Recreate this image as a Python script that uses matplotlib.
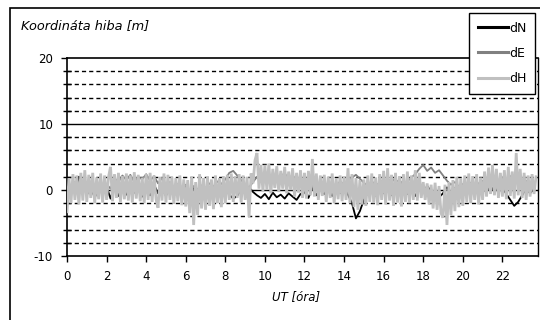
import matplotlib
matplotlib.use("Agg")
import matplotlib.pyplot as plt
from matplotlib.patches import Rectangle
from matplotlib.ticker import MultipleLocator
import numpy as np

plt.rcParams['font.family'] = ['DejaVu Sans']

# dH sampled every 0.1 h (0.0 .. 23.7)
dH = [
    -3.3, 1.8, -2.0, 2.4, -1.5, 2.2, -2.2, 2.6, -1.6, 3.0,
    -1.8, 2.3, -1.2, 2.6, -2.0, 1.9, -1.4, 2.5, -1.9, 2.2,
    -1.5, 2.0, 3.5, -1.7, 2.4, -1.2, 2.6, -1.8, 2.1, -1.4,
    2.5, -1.6, 2.2, -1.9, 2.7, -1.3, 2.3, -1.7, 1.9, -2.0,
    2.4, -1.5, 2.6, -1.8, 2.2, -1.4, -2.7, 2.0, -1.6, 2.5,
    -1.9, 2.3, -1.5, 2.0, -2.1, 1.8, -1.7, 2.2, -2.3, 1.6,
    -2.5, 1.5, -3.5, 2.0, -5.3, 1.2, -3.8, 2.4, -2.8, 1.8,
    -3.0, 2.0, -2.4, 1.6, -2.9, 2.2, -2.0, 1.8, -2.6, 2.1,
    -2.0, 2.3, -1.5, 2.5, -1.8, 2.0, -1.2, 2.4, -1.9, 2.2,
    -1.5, 2.0, -4.1, 2.5, 1.0, 4.5, 5.6, 0.2, 3.8, -0.2,
    3.8, 0.0, 4.0, -0.5, 3.2, 0.3, 3.6, -0.3, 2.9, 0.2,
    3.5, -0.5, 2.8, 0.0, 3.3, -1.0, 2.6, -0.4, 3.0, -1.2,
    2.6, -1.3, 2.9, -0.8, 4.7, -1.0, 2.5, -1.5, 2.2, -0.9,
    2.3, -1.8, 2.0, -1.2, 2.5, -2.0, 1.8, -1.4, 2.2, -1.7,
    2.0, -1.5, 3.3, -2.0, 2.4, -2.6, 1.8, -3.0, 1.5, -2.2,
    1.6, -2.4, 2.2, -1.8, 2.5, -2.0, 1.9, -2.3, 2.4, -1.5,
    2.9, -2.2, 3.3, -1.6, 2.3, -2.4, 2.6, -1.9, 2.1, -2.5,
    2.4, -1.8, 2.8, -2.0, 2.2, -1.5, 3.0, -1.6, 2.6, -1.2,
    1.2, -1.5, 1.0, -2.2, 0.8, -2.8, 1.1, -3.0, 0.6, -3.5,
    -4.2, 0.8, -5.3, 1.2, -3.8, 1.5, -3.2, 2.0, -2.6, 1.8,
    -2.4, 2.2, -1.8, 2.5, -2.0, 2.1, -1.5, 2.4, -2.2, 1.9,
    -1.5, 2.8, -1.0, 3.4, -0.6, 3.8, -0.8, 3.2, -1.2, 2.6,
    -1.0, 3.0, -1.4, 3.5, -0.9, 2.8, -1.3, 5.6, -0.8, 3.2,
    -1.2, 2.6, -1.5, 2.2, -1.0, 2.4, -0.6, 2.0,
]

# dN sampled every 0.2 h (0.0 .. 23.6)
dN = [
    -1.0, 0.8, -0.5, 2.0, 1.2,
    -0.8, 0.6, -1.2, 0.4, -0.6,
    0.5, -1.3, 0.7, -0.9, 0.3,
    -0.7, 0.9, -0.4, 0.6, -1.0,
    0.4, -0.8, 0.8, -0.5, 0.2,
    -0.9, 0.5, -0.6, 0.7, -0.3,
    0.6, -1.1, 0.3, -0.8, 0.5,
    -0.6, 0.4, -0.9, 0.6, -0.4,
    0.3, -0.7, -1.3, -0.9, 0.2,
    -0.5, 0.4, -0.3, -0.8, -1.2,
    -0.6, -1.4, -0.4, -1.1, -0.7,
    -1.3, -0.5, -1.0, -1.5, -0.6,
    -0.3, -1.2, 0.4, -0.8, 0.2,
    -0.6, 0.5, -0.9, 0.3, -0.5,
    0.4, -0.7, -2.0, -4.3, -3.2,
    -1.5, -0.4, 0.3, -0.9, 0.5,
    -0.5, 0.6, -0.8, 0.4, -0.3,
    0.5, -0.6, 0.3, -0.9, 0.2,
    -0.4, 0.6, -0.2, -0.9, -1.1,
    -0.5, 0.4, -0.7, 0.3, -0.6,
    -0.3, -0.7, 0.4, -0.5, 0.3,
    -0.4, 0.5, -0.2, 0.6, -0.3,
    0.4, -0.6, -1.5, -2.4, -1.8,
    -0.8, 0.3, -0.5, 0.2,
]

# dE sampled every 0.2 h (0.0 .. 23.6)
dE = [
    0.5, -0.4, 1.2, 0.3, 1.0,
    0.2, 1.0, -0.3, 0.8, 0.1,
    0.9, 0.2, 1.8, 1.2, 2.2,
    1.5, 2.3, 1.2, 2.0, 1.6,
    2.4, 1.4, 2.1, 1.0, 1.8,
    0.6, 1.2, 0.2, 0.9, 0.3,
    0.8, -0.2, 0.6, 0.1, 0.7,
    0.3, 1.0, 0.5, 1.3, 0.9,
    1.6, 2.6, 2.9, 2.2, 1.5,
    0.8, 0.4, 1.2, 2.0, 1.5,
    2.2, 1.6, 2.4, 1.8, 2.0,
    2.6, 1.5, 2.3, 1.2, 1.8,
    0.9, 1.4, 0.5, 1.1, 0.7,
    1.2, 0.4, 1.0, 0.6, 1.3,
    0.8, 1.5, 1.9, 2.3, 1.7,
    1.1, 0.6, 1.3, 0.8, 1.0,
    1.6, 1.0, 1.8, 1.2, 1.5,
    0.8, 1.3, 1.9, 2.4, 3.2,
    3.8, 2.9, 3.4, 2.6, 3.0,
    2.2, 1.4, 0.8, 1.2, 0.5,
    0.9, 0.3, 1.1, 0.6, 1.0,
    1.4, 0.8, 1.7, 1.2, 1.5,
    1.9, 1.3, 2.1, 1.0, 1.6,
    0.9, 1.4, 0.7, 1.1,
]

t_H = np.arange(len(dH)) * 0.1
t_NE = np.arange(len(dN)) * 0.2

x_ticks = list(range(0, 24, 2))
y_ticks = [-10, 0, 10, 20]

W, H = 540, 320
fig = plt.figure(figsize=(W / 100, H / 100), dpi=100)

# outer chart frame (clipped at right/bottom like reference)
fig.patches.append(Rectangle((9.5 / W, -0.05), 1.2, 1 - 7.5 / H + 0.05,
                             transform=fig.transFigure, fill=False,
                             edgecolor='black', linewidth=1.2))

ax = fig.add_axes([67 / W, 1 - 256 / H, (538 - 67) / W, (256 - 58) / H])
ax.set_xlim(0, 23.8)
ax.set_ylim(-10, 20)

# gridlines
for v in range(-8, 20, 2):
    if v % 10 == 0:
        ax.axhline(v, color='black', linewidth=1.0, zorder=0)
    else:
        ax.axhline(v, color='black', linewidth=1.0, linestyle=(0, (3, 2.2)), zorder=0)

ax.plot(t_NE, dN, color='black', linewidth=1.3, label='dN', zorder=2)
ax.plot(t_NE, dE, color='#808080', linewidth=1.3, label='dE', zorder=3)
ax.plot(t_H, dH, color='#c0c0c0', linewidth=2.0, label='dH', zorder=4,
        solid_joinstyle='miter')

ax.set_xticks(x_ticks)
ax.set_xticklabels([str(v) for v in x_ticks])
ax.set_yticks(y_ticks)
ax.set_yticklabels([str(v) for v in y_ticks])
ax.yaxis.set_minor_locator(MultipleLocator(2))
ax.tick_params(axis='both', which='major', labelsize=8.5, length=4, width=1, direction='out', pad=6)
ax.tick_params(axis='y', which='minor', length=6, width=1, direction='inout')
ax.tick_params(axis='x', which='minor', length=0)

for s in ['left', 'bottom', 'top']:
    ax.spines[s].set_linewidth(1.2)
ax.spines['right'].set_linewidth(1.0)

fig.text(21 / W, 1 - 26 / H, 'Koordináta hiba [m]', fontsize=9.3, style='italic',
         ha='left', va='center')
fig.text(296 / W, 1 - 297 / H, 'UT [óra]', fontsize=8.5, style='italic',
         ha='center', va='center')

leg = ax.legend(loc='upper left', bbox_to_anchor=(469 / W, 1 - 13 / H),
                bbox_transform=fig.transFigure, borderaxespad=0,
                fontsize=9, frameon=True, fancybox=False, edgecolor='black',
                framealpha=1, handlelength=2.45, handletextpad=0.1,
                labelspacing=0.98, borderpad=0.68)
leg.get_frame().set_linewidth(1.0)
for line in leg.get_lines():
    line.set_linewidth(2.2)
leg.set_zorder(10)

fig.savefig('out.png', dpi=100)
